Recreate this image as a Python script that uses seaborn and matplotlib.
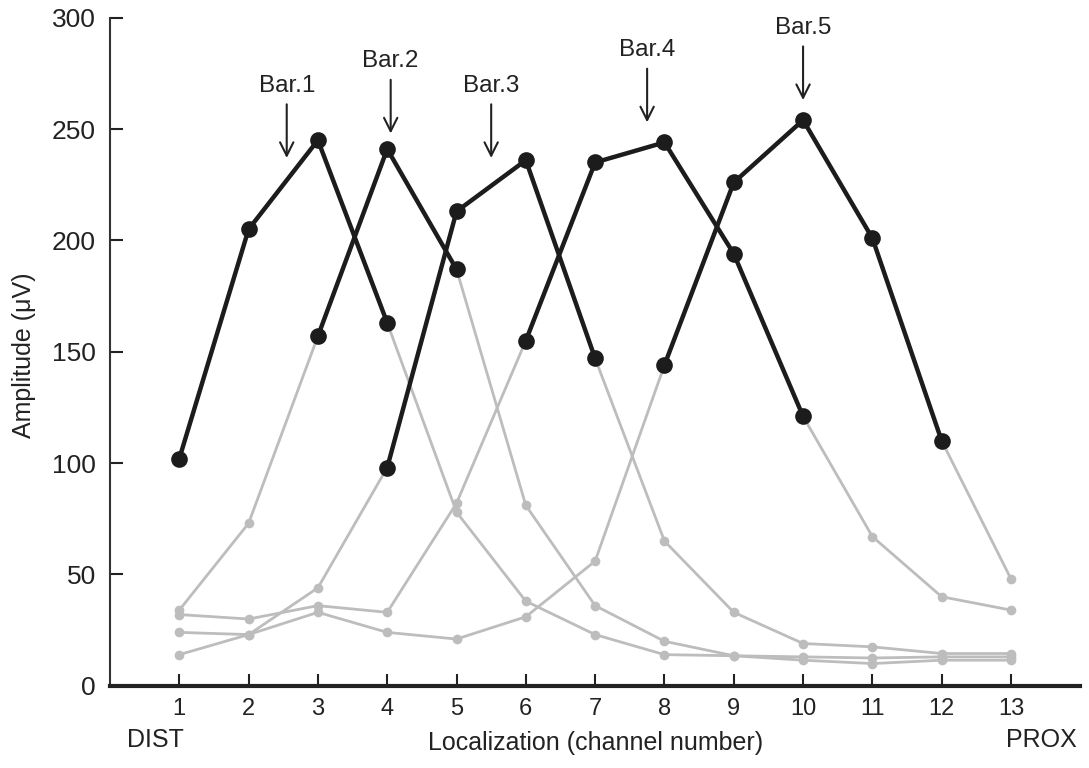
import pandas as pd
import matplotlib.pyplot as plt
import seaborn as sns

# channel amplitudes (uV) for each bar position
channels = list(range(1, 14))
bar1 = [102, 205, 245, 163, 78, 38, 23, 14, 13.5, 11.5, 10, 11.5, 11.5]
bar2 = [34, 73, 157, 241, 187, 81, 36, 20, 13.5, 13, 12.5, 13, 13]
bar3 = [24, 23, 44, 98, 213, 236, 147, 65, 33, 19, 17.5, 14.5, 14.5]
bar4 = [32, 30, 36, 33, 82, 155, 235, 244, 194, 121, 67, 40, 34]
bar5 = [14, 23, 33, 24, 21, 31, 56, 144, 226, 254, 201, 110, 48]
# channels drawn in black (near the bar)
peak1 = [1, 2, 3, 4]
peak2 = [3, 4, 5]
peak3 = [4, 5, 6, 7]
peak4 = [6, 7, 8, 9, 10]
peak5 = [8, 9, 10, 11, 12]

bar_names = ['Bar.1', 'Bar.2', 'Bar.3', 'Bar.4', 'Bar.5']
bar_pos = [2.55, 4.05, 5.5, 7.75, 10]
arrow_tip = [237, 248, 237, 253, 263]

rows = []
for name, vals, peak in zip(bar_names, [bar1, bar2, bar3, bar4, bar5],
                            [peak1, peak2, peak3, peak4, peak5]):
    for ch, v in zip(channels, vals):
        rows.append({'bar': name, 'channel': ch, 'amp': v, 'peak': ch in peak})
df = pd.DataFrame(rows)

sns.set_style('ticks')
plt.rcParams['font.family'] = ['Liberation Sans', 'DejaVu Sans']

fig = plt.figure(figsize=(10.89, 7.68), dpi=100)
ax = fig.add_axes([0.101, 0.107, 0.891, 0.870])

grey = '#bdbdbd'
black = '#1c1c1c'
txt = '#222222'
sns.lineplot(data=df, x='channel', y='amp', units='bar', estimator=None,
             color=grey, lw=2, marker='o', markersize=7, markeredgewidth=0,
             ax=ax, zorder=2)
sns.lineplot(data=df[df['peak']], x='channel', y='amp', units='bar', estimator=None,
             color=black, lw=3.2, marker='o', markersize=12, markeredgewidth=0,
             ax=ax, zorder=3)

for name, x, tip in zip(bar_names, bar_pos, arrow_tip):
    ax.annotate(name, xy=(x, tip), xytext=(0, 44), textcoords='offset points',
                ha='center', va='bottom', fontsize=17.5, color=txt,
                arrowprops=dict(arrowstyle='->', color=txt, lw=1.5,
                                mutation_scale=24, shrinkA=3, shrinkB=0))

ax.set_xlim(0, 14)
ax.set_ylim(0, 300)
ax.set_xticks(channels)
ax.set_yticks([0, 50, 100, 150, 200, 250, 300])
ax.tick_params(axis='both', direction='in', length=9, width=1.5,
               labelsize=17, colors=txt)
ax.tick_params(axis='x', pad=9)
ax.tick_params(axis='y', pad=10, labelsize=19)
for s in ['top', 'right']:
    ax.spines[s].set_visible(False)
ax.spines['left'].set_linewidth(1.5)
ax.spines['bottom'].set_linewidth(3)
ax.spines['left'].set_color('#333333')
ax.spines['bottom'].set_color(txt)

ax.set_xlabel('Localization (channel number)', fontsize=18, color=txt)
ax.set_ylabel('Amplitude (\u03bcV)', fontsize=18, color=txt)
ax.xaxis.set_label_coords(0.5, -0.068)
ax.yaxis.set_label_coords(-0.076, 0.495)
fig.text(155 / 1089, 1 - 740 / 768, 'DIST', ha='center', va='center', fontsize=18, color=txt)
fig.text(1041 / 1089, 1 - 740 / 768, 'PROX', ha='center', va='center', fontsize=18, color=txt)

fig.savefig('out.png', dpi=100)
